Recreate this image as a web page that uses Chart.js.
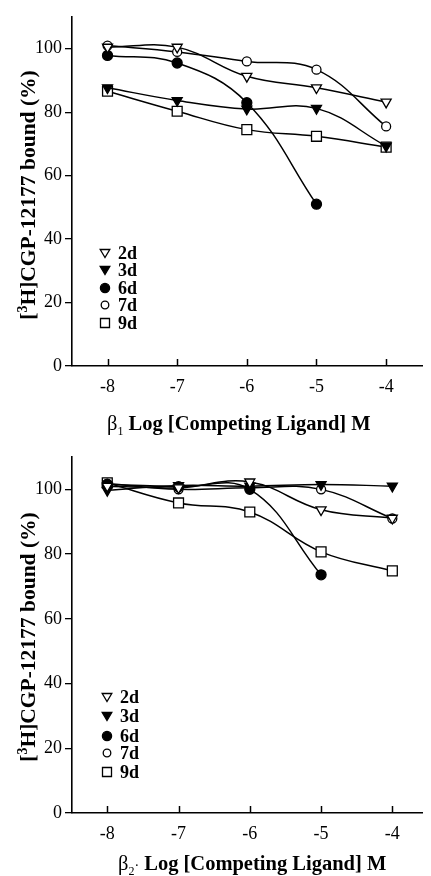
<!DOCTYPE html>
<html>
<head>
<meta charset="utf-8">
<script src="https://cdn.jsdelivr.net/npm/chart.js@4.4.1/dist/chart.umd.min.js"></script>
<style>
  html, body { margin: 0; padding: 0; background: #fff; }
  canvas { position: absolute; left: 0; }
</style>
</head>
<body>
<canvas id="chart1" width="431" height="438" style="top:0"></canvas>
<canvas id="chart2" width="431" height="438" style="top:438px"></canvas>
<script>
// log concentration of competing ligand
let logDose = [-8, -7, -6, -5, -4];
let groups = ['2d', '3d', '6d', '7d', '9d'];

// beta1 binding (% of control)
let beta1_2d = [100.5, 100.5, 91.3, 87.7, 83.2];
let beta1_3d = [87.7, 83.7, 81.0, 81.2, 69.3];
let beta1_6d = [97.9, 95.5, 83.0, 51.0, null];
let beta1_7d = [101.0, 99.0, 96.0, 93.4, 75.5];
let beta1_9d = [86.6, 80.3, 74.5, 72.4, 69.0];

// beta2 binding (% of control)
let beta2_2d = [101.0, 100.5, 102.3, 93.7, 91.1];
let beta2_3d = [99.7, 101.2, 101.0, 101.5, 101.0];
let beta2_6d = [101.5, 100.8, 100.0, 73.6, null];
let beta2_7d = [101.8, 100.0, 100.5, 100.0, 91.0];
let beta2_9d = [102.0, 95.8, 93.0, 80.7, 74.8];

const serif = '"Liberation Serif", "Times New Roman", serif';

// marker look per group: style, rotation, fill, radius
let markers = [
  { style: 'triangle', rot: 180, fill: '#fff', r: 5.8 },
  { style: 'triangle', rot: 180, fill: '#000', r: 5.8 },
  { style: 'circle', rot: 0, fill: '#000', r: 5 },
  { style: 'circle', rot: 0, fill: '#fff', r: 4.5 },
  { style: 'rect', rot: 0, fill: '#fff', r: 7 }
];

function toPoints(vals) {
  return logDose.map((x, i) => ({ x: x, y: vals[i] }));
}

function legendMarker(ctx, i, x, y) {
  const m = markers[i];
  ctx.beginPath();
  if (m.style === 'triangle') {
    ctx.moveTo(x - 4.8, y - 3.5);
    ctx.lineTo(x + 4.8, y - 3.5);
    ctx.lineTo(x, y + 4.5);
    ctx.closePath();
  } else if (m.style === 'circle') {
    ctx.arc(x, y, m.fill === '#000' ? 4.6 : 3.8, 0, Math.PI * 2);
  } else {
    ctx.rect(x - 4.5, y - 4.5, 9, 9);
  }
  ctx.fillStyle = m.fill;
  ctx.fill();
  ctx.stroke();
}

function drawParts(ctx, parts, x, y) {
  parts.forEach(p => {
    ctx.font = p[1];
    ctx.fillText(p[0], x, y + p[2]);
    x += ctx.measureText(p[0]).width;
  });
  return x;
}

function partsWidth(ctx, parts) {
  let w = 0;
  parts.forEach(p => { ctx.font = p[1]; w += ctx.measureText(p[0]).width; });
  return w;
}

let decor = {
  id: 'decor',
  afterDraw(chart, args, o) {
    const ctx = chart.ctx, xs = chart.scales.x, a = chart.chartArea;
    ctx.save();
    ctx.strokeStyle = '#000';
    ctx.fillStyle = '#000';

    // inward x ticks
    ctx.lineWidth = 1.5;
    xs.ticks.forEach(t => {
      const px = Math.round(xs.getPixelForValue(t.value)) + 0.5;
      ctx.beginPath();
      ctx.moveTo(px, a.bottom);
      ctx.lineTo(px, a.bottom - 7);
      ctx.stroke();
    });

    // legend inside plot
    ctx.lineWidth = 1.3;
    groups.forEach((g, i) => {
      const y = o.legendY[i];
      legendMarker(ctx, i, o.legendX, y);
      ctx.fillStyle = '#000';
      ctx.font = 'bold 18px ' + serif;
      ctx.textBaseline = 'middle';
      ctx.fillText(g, o.legendX + 13, y + 1);
    });

    // y title
    ctx.textBaseline = 'alphabetic';
    const bigY = 'bold 21.5px ' + serif;
    const yParts = [['[', bigY, 0], ['3', 'bold 14px ' + serif, -8], ['H]CGP-12177 bound (%)', bigY, 0]];
    ctx.save();
    ctx.translate(o.yTitleX, o.yTitleY);
    ctx.rotate(-Math.PI / 2);
    drawParts(ctx, yParts, -partsWidth(ctx, yParts) / 2, 7);
    ctx.restore();

    // x title
    const big = 'bold 20.5px ' + serif;
    const xParts = [['β', '20.5px ' + serif, 0], [o.sub, '12px ' + serif, 5]];
    if (o.dot) xParts.push(['·', '14px ' + serif, 0]);
    xParts.push([' Log [Competing Ligand] M', big, 0]);
    drawParts(ctx, xParts, o.xTitleX, o.xTitleY);

    ctx.restore();
  }
};

function makeChart(id, vals, xMin, xMax, pad, xHeight, deco) {
  let ctx = document.getElementById(id).getContext('2d');
  return new Chart(ctx, {
    type: 'line',
    data: {
      datasets: vals.map((v, i) => ({
        label: groups[i],
        data: toPoints(v),
        borderColor: '#000',
        borderWidth: 1.5,
        tension: 0.4,
        fill: false,
        pointStyle: markers[i].style,
        pointRotation: markers[i].rot,
        pointRadius: markers[i].r,
        pointBackgroundColor: markers[i].fill,
        pointBorderColor: '#000',
        pointBorderWidth: 1.3
      }))
    },
    plugins: [decor],
    options: {
      responsive: false,
      animation: false,
      layout: { padding: pad },
      plugins: {
        legend: { display: false },
        tooltip: { enabled: false },
        decor: deco
      },
      scales: {
        x: {
          type: 'linear',
          min: xMin,
          max: xMax,
          afterFit: (s) => { s.height = xHeight; },
          grid: { display: false, drawTicks: false },
          border: { display: true, color: '#000', width: 1.6 },
          ticks: {
            stepSize: 1,
            includeBounds: false,
            padding: 10,
            color: '#000',
            font: { family: serif, size: 18 }
          }
        },
        y: {
          min: 0,
          max: 110,
          afterFit: (s) => { s.width = 72; },
          grid: { drawOnChartArea: false, tickLength: 7, color: '#000', lineWidth: 1.3 },
          border: { display: true, color: '#000', width: 1.6 },
          ticks: {
            stepSize: 20,
            includeBounds: false,
            padding: 3,
            color: '#000',
            font: { family: serif, size: 18 }
          }
        }
      }
    }
  });
}

makeChart('chart1', [beta1_2d, beta1_3d, beta1_6d, beta1_7d, beta1_9d],
  -8.51, -3.475, { top: 17, right: 4, left: 0, bottom: 0 }, 72,
  { legendX: 105, legendY: [253, 270, 288, 305, 323], yTitleX: 28, yTitleY: 195,
    xTitleX: 107, xTitleY: 430, sub: '1', dot: false });

makeChart('chart2', [beta2_2d, beta2_3d, beta2_6d, beta2_7d, beta2_9d],
  -8.495, -3.574, { top: 19, right: 1, left: 0, bottom: 0 }, 63,
  { legendX: 107, legendY: [259, 278, 298, 315, 334], yTitleX: 28, yTitleY: 199,
    xTitleX: 118, xTitleY: 432, sub: '2', dot: true });
</script>
</body>
</html>
